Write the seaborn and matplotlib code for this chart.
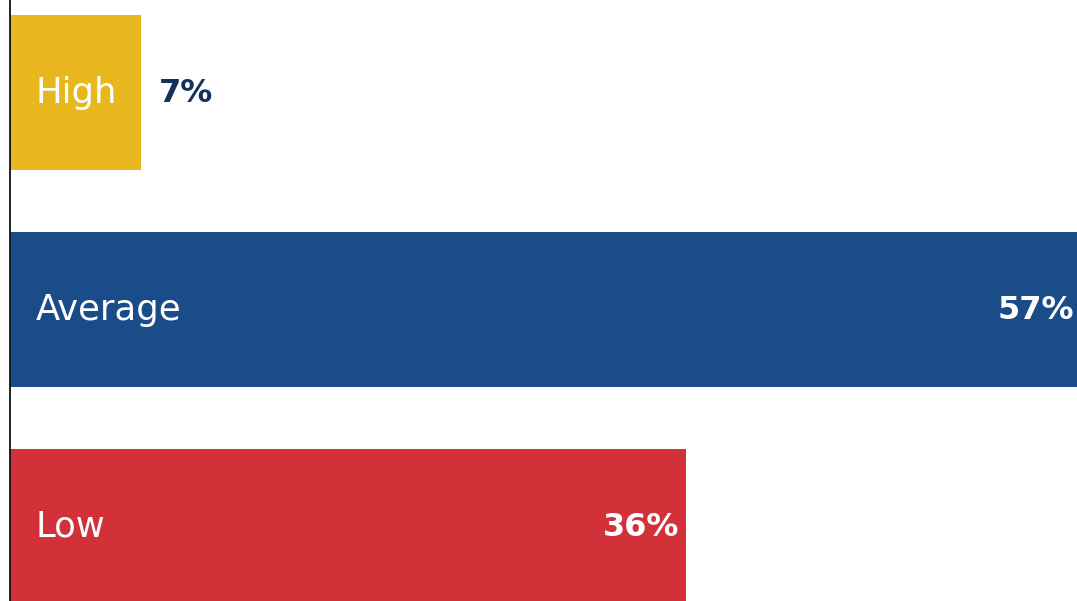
import matplotlib
matplotlib.use("Agg")
import matplotlib.pyplot as plt
import seaborn as sns
import pandas as pd

categories = ["High", "Average", "Low"]
shares = [7, 57, 36]
bar_colors = ["#E8B71D", "#1B4C8A", "#D2313A"]
label_texts = ["7%", "57%", "36%"]

sns.set_theme(style="white")
plt.rcParams["font.family"] = ["DejaVu Sans"]

df = pd.DataFrame({"level": categories, "share": shares})

fig = plt.figure(figsize=(10.77, 6.01), dpi=100)
ax = fig.add_axes([9.5 / 1077, 0, 1 - 9.5 / 1077, 1])

sns.barplot(data=df, y="level", x="share", hue="level", palette=bar_colors,
            order=categories, hue_order=categories, width=0.714,
            legend=False, ax=ax, saturation=1, edgecolor="none")

ax.set_xlim(0, 56.8)
ax.set_ylim(2.343, -0.426)
ax.set_xlabel("")
ax.set_ylabel("")
ax.set_xticks([])
ax.set_yticks([])
for side in ["top", "right", "bottom"]:
    ax.spines[side].set_visible(False)
ax.spines["left"].set_color("#111111")
ax.spines["left"].set_linewidth(1.3)

for i, (cat, val, txt) in enumerate(zip(categories, shares, label_texts)):
    # category name inside the bar, near its base
    ax.annotate(cat, xy=(0, i), xytext=(19, -7.5), textcoords="offset points",
                ha="left", va="baseline", color="white", fontsize=25.5,
                annotation_clip=False)
    if val < 15:
        # short bar: value sits just past the end
        ax.annotate(txt, xy=(val, i), xytext=(13, -7), textcoords="offset points",
                    ha="left", va="baseline", color="#16305C", fontsize=23,
                    fontweight="bold", annotation_clip=False)
    else:
        ax.annotate(txt, xy=(val, i), xytext=(-5, -7), textcoords="offset points",
                    ha="right", va="baseline", color="white", fontsize=23,
                    fontweight="bold", annotation_clip=False)

fig.savefig("out.png", dpi=100)
